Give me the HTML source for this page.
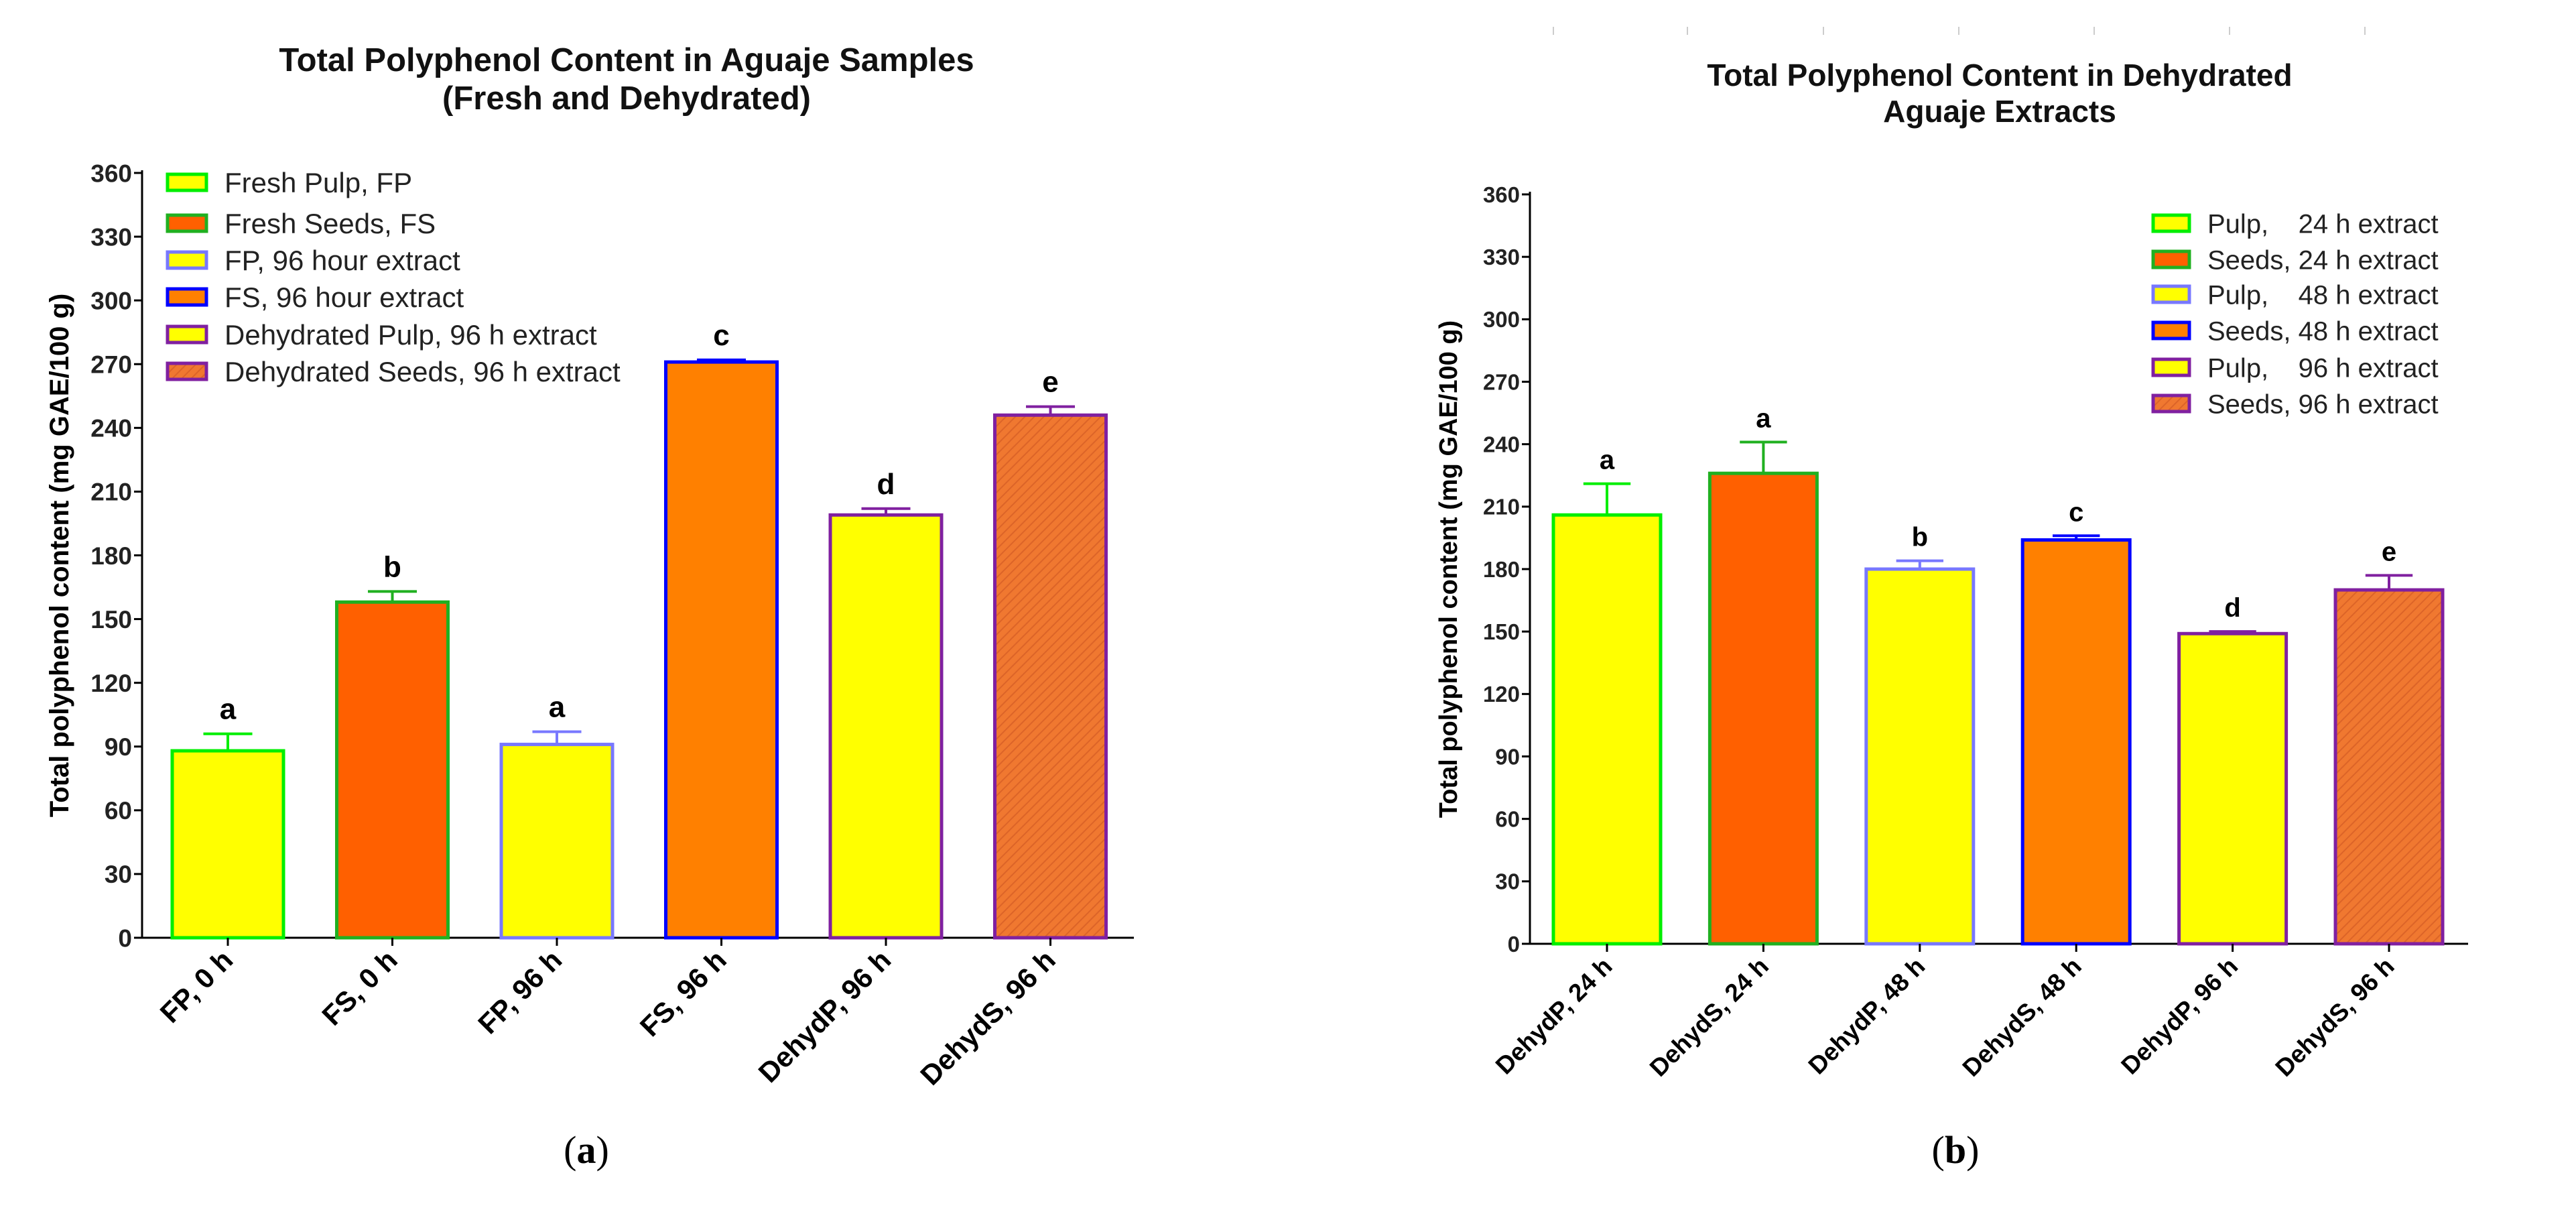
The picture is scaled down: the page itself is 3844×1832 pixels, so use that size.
<!DOCTYPE html>
<html><head><meta charset="utf-8"><style>
body{margin:0;background:#fff;}
svg{display:block;font-family:"Liberation Sans",Arial,sans-serif;}
</style></head><body>
<svg id="s" width="3844" height="1832" xmlns="http://www.w3.org/2000/svg">
<defs>
<pattern id="hatch" width="10" height="10" patternUnits="userSpaceOnUse" patternTransform="rotate(45)">
<rect width="10" height="10" fill="#f07830"/><line x1="0" y1="0" x2="0" y2="10" stroke="#dc6428" stroke-width="4"/>
</pattern>
</defs>
</svg>
<script>
const catsA=["FP, 0 h","FS, 0 h","FP, 96 h","FS, 96 h","DehydP, 96 h","DehydS, 96 h"];
const valsA=[88,158,91,271,199,246];
const errA=[8,5,6,1,3,4];
const lettersA=["a","b","a","c","d","e"];
const legendA=["Fresh Pulp, FP","Fresh Seeds, FS","FP, 96 hour extract","FS, 96 hour extract","Dehydrated Pulp, 96 h extract","Dehydrated Seeds, 96 h extract"];
const catsB=["DehydP, 24 h","DehydS, 24 h","DehydP, 48 h","DehydS, 48 h","DehydP, 96 h","DehydS, 96 h"];
const valsB=[206,226,180,194,149,170];
const errB=[15,15,4,2,1,7];
const lettersB=["a","a","b","c","d","e"];
const legendB=["Pulp,    24 h extract","Seeds, 24 h extract","Pulp,    48 h extract","Seeds, 48 h extract","Pulp,    96 h extract","Seeds, 96 h extract"];
const ticks=[0,30,60,90,120,150,180,210,240,270,300,330,360];
const fills=["#ffff00","#ff6000","#ffff00","#ff8000","#ffff00","url(#hatch)"];
const strokes=["#00ee00","#20b020","#7878ff","#0000ff","#8020a0","#8020a0"];
const NS="http://www.w3.org/2000/svg";
const svg=document.getElementById('s');
function mk(tag,attrs,txt){const e=document.createElementNS(NS,tag);for(const k in attrs)e.setAttribute(k,attrs[k]);if(txt!==undefined)e.textContent=txt;svg.appendChild(e);return e;}
function chart(o){
  const y=v=>o.y0-(v/360)*(o.y0-o.y360);
  let e;
  e=mk('line',{x1:o.ax,y1:o.y360-4,x2:o.ax,y2:o.y0,stroke:'#000','stroke-width':3});
  
  e=mk('line',{x1:o.ax,y1:o.y0,x2:o.axEnd,y2:o.y0,stroke:'#000','stroke-width':3});
  
  ticks.forEach(t=>{
    e=mk('line',{x1:o.ax-12,y1:y(t),x2:o.ax,y2:y(t),stroke:'#000','stroke-width':3});
    
    e=mk('text',{x:o.ax-15,y:y(t)+o.tf*0.36,'text-anchor':'end','font-size':o.tf,'font-weight':'bold',fill:'#222'},t);
    
  });
  o.cats.forEach((c,i)=>{
    const cx=o.c0+i*o.sp, v=o.vals[i], top=y(v);
    e=mk('rect',{x:cx-o.bw/2,y:top,width:o.bw,height:o.y0-top,fill:fills[i],stroke:strokes[i],'stroke-width':5});
    
    const et=y(v+o.err[i]);
    e=mk('line',{x1:cx,y1:top,x2:cx,y2:et,stroke:strokes[i],'stroke-width':4});
    
    e=mk('line',{x1:cx-o.bw*0.22,y1:et,x2:cx+o.bw*0.22,y2:et,stroke:strokes[i],'stroke-width':4});
    
    e=mk('text',{x:cx,y:et-22,'text-anchor':'middle','font-size':o.letf,'font-weight':'bold'},o.letters[i]);
    
    e=mk('line',{x1:cx,y1:o.y0,x2:cx,y2:o.y0+12,stroke:'#000','stroke-width':3});
    
    e=mk('text',{x:cx+10,y:o.y0+36,'text-anchor':'end','font-size':o.xf,'font-weight':'bold',transform:`rotate(-45 ${cx+10} ${o.y0+36})`},c);
    
  });
  o.legend.forEach((l,i)=>{
    const ly=o.lRows[i];
    e=mk('rect',{x:o.lx,y:ly-12,width:o.lw,height:24,fill:fills[i],stroke:strokes[i],'stroke-width':5});
    
    e=mk('text',{x:o.ltx,y:ly+o.lf*0.36,'font-size':o.lf,fill:'#222',style:'white-space:pre'},l);
    
  });
  o.title.forEach((t,i)=>{
    e=mk('text',{x:o.tx,y:o.ty[i],'text-anchor':'middle','font-size':o.titf,'font-weight':'bold',fill:'#111'},t);
    
  });
  e=mk('text',{x:o.ylx,y:(o.y0+o.y360)/2,'text-anchor':'middle','font-size':o.ylf,'font-weight':'bold',transform:`rotate(-90 ${o.ylx} ${(o.y0+o.y360)/2})`},'Total polyphenol content (mg GAE/100 g)');
  
  e=mk('text',{x:o.capx,y:1735,'text-anchor':'middle','font-size':58,'font-family':'Liberation Serif, serif'},'');
  
  const a=document.createElementNS(NS,'tspan');a.textContent='(';e.appendChild(a);
  const b=document.createElementNS(NS,'tspan');b.setAttribute('font-weight','bold');b.textContent=o.cap;e.appendChild(b);
  const c=document.createElementNS(NS,'tspan');c.textContent=')';e.appendChild(c);
}
chart({cats:catsA,vals:valsA,err:errA,letters:lettersA,legend:legendA,ax:212,axEnd:1692,y0:1399,y360:258,c0:340,sp:245.5,bw:166,tf:37,xf:42,letf:44,ylf:40,titf:49,
 lRows:[272,333,388,443,499,554],lx:250,lw:58,ltx:335,lf:42,title:["Total Polyphenol Content in Aguaje Samples","(Fresh and Dehydrated)"],tx:935,ty:[106,163],
 ylx:102,capx:875,cap:'a'});
chart({cats:catsB,vals:valsB,err:errB,letters:lettersB,legend:legendB,ax:2283,axEnd:3683,y0:1408,y360:290,c0:2398,sp:233.4,bw:160,tf:33,xf:37,letf:40,ylf:38,titf:46,
 lRows:[333,387,439,493,548,602],lx:3213,lw:54,ltx:3294,lf:40,title:["Total Polyphenol Content in Dehydrated","Aguaje Extracts"],tx:2984,ty:[128,182],
 ylx:2174,capx:2918,cap:'b'});
[2318,2518,2721,2923,3125,3327,3529].forEach(x=>{const l=document.createElementNS(NS,'line');
l.setAttribute('x1',x);l.setAttribute('x2',x);l.setAttribute('y1',40);l.setAttribute('y2',52);l.setAttribute('stroke','#ccc');l.setAttribute('stroke-width',2);


svg.appendChild(l);});
</script>
</body></html>
